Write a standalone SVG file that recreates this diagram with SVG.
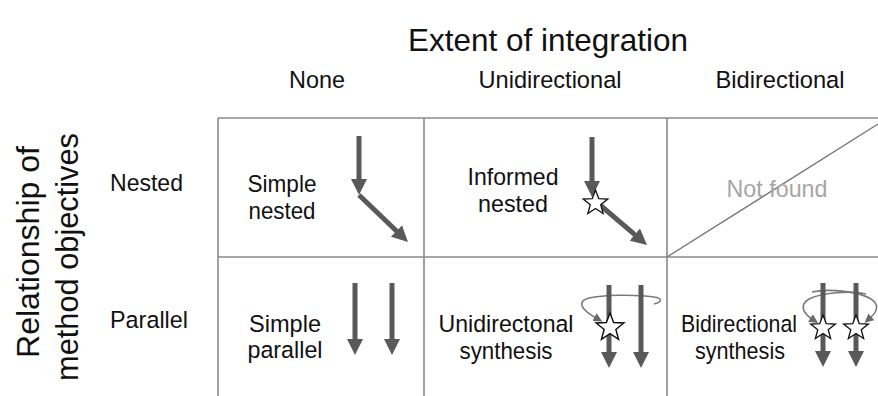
<svg xmlns="http://www.w3.org/2000/svg" width="878" height="396" viewBox="0 0 878 396">
<style>
text{font-family:"Liberation Sans",Arial,sans-serif;fill:#111}
.big{font-size:32px}
.lbl{font-size:24.5px}
.ctr{text-anchor:middle}
.grid{stroke:#8a8a8a;stroke-width:1.6;fill:none}
.arr{stroke:#595959;stroke-width:5;fill:none;marker-end:url(#ah)}
.loop{stroke:#7a7a7a;stroke-width:1.6;fill:none;marker-end:url(#sh)}
.star{fill:#fff;stroke:#111;stroke-width:1.3}
</style>
<defs>
<marker id="ah" viewBox="0 0 10 10" markerUnits="userSpaceOnUse" markerWidth="16" markerHeight="16" refX="0.5" refY="5" orient="auto"><path d="M0,0 L10,5 L0,10 Z" fill="#595959"/></marker>
<marker id="sh" viewBox="0 0 10 10" markerUnits="userSpaceOnUse" markerWidth="9" markerHeight="9" refX="2" refY="5" orient="auto"><path d="M0,0 L10,5 L0,10 Z" fill="#6a6a6a"/></marker>
<path id="star" d="M0,-13 L3.233,-4.45 L12.364,-4.017 L5.231,1.7 L7.641,10.517 L0,5.5 L-7.641,10.517 L-5.231,1.7 L-12.364,-4.017 L-3.233,-4.45 Z"/>
</defs>
<rect width="878" height="396" fill="#fff"/>

<g id="headers">
<text class="big ctr" x="548" y="51" textLength="280" lengthAdjust="spacingAndGlyphs">Extent of integration</text>
<text class="lbl ctr" x="317" y="88" textLength="56" lengthAdjust="spacingAndGlyphs">None</text>
<text class="lbl ctr" x="550" y="88" textLength="143" lengthAdjust="spacingAndGlyphs">Unidirectional</text>
<text class="lbl ctr" x="780" y="88" textLength="129" lengthAdjust="spacingAndGlyphs">Bidirectional</text>
<text class="big ctr" transform="translate(39,252) rotate(-90)" textLength="212" lengthAdjust="spacingAndGlyphs">Relationship of</text>
<text class="big ctr" transform="translate(78,257) rotate(-90)" textLength="248" lengthAdjust="spacingAndGlyphs">method objectives</text>
<text class="lbl" x="110" y="191" textLength="73" lengthAdjust="spacingAndGlyphs">Nested</text>
<text class="lbl" x="110" y="328" textLength="78" lengthAdjust="spacingAndGlyphs">Parallel</text>
</g>

<g id="grid">
<line class="grid" x1="218" y1="118" x2="878" y2="118"/>
<line class="grid" x1="218" y1="257" x2="878" y2="257"/>
<line class="grid" x1="218" y1="118" x2="218" y2="396"/>
<line class="grid" x1="424" y1="118" x2="424" y2="396"/>
<line class="grid" x1="667" y1="118" x2="667" y2="396"/>
</g>

<g id="simple-nested">
<text class="lbl ctr" x="282" y="192" textLength="69" lengthAdjust="spacingAndGlyphs">Simple</text>
<text class="lbl ctr" x="282" y="219" textLength="67" lengthAdjust="spacingAndGlyphs">nested</text>
</g>
<g id="informed-nested">
<text class="lbl ctr" x="513" y="185" textLength="91" lengthAdjust="spacingAndGlyphs">Informed</text>
<text class="lbl ctr" x="513" y="212" textLength="70" lengthAdjust="spacingAndGlyphs">nested</text>
</g>
<g id="not-found">
<line x1="667" y1="257" x2="878" y2="124" stroke="#777" stroke-width="1.3"/>
<text class="lbl ctr" x="777" y="197" style="fill:#a6a6a6" textLength="101" lengthAdjust="spacingAndGlyphs">Not found</text>
</g>
<g id="simple-parallel">
<text class="lbl ctr" x="285" y="332" textLength="72" lengthAdjust="spacingAndGlyphs">Simple</text>
<text class="lbl ctr" x="285" y="358" textLength="75" lengthAdjust="spacingAndGlyphs">parallel</text>
</g>
<g id="unidirectional-synthesis">
<text class="lbl ctr" x="506" y="332" textLength="135" lengthAdjust="spacingAndGlyphs">Unidirectonal</text>
<text class="lbl ctr" x="506" y="359" textLength="93" lengthAdjust="spacingAndGlyphs">synthesis</text>
</g>
<g id="bidirectional-synthesis">
<text class="lbl ctr" x="739" y="332" textLength="116" lengthAdjust="spacingAndGlyphs">Bidirectional</text>
<text class="lbl ctr" x="740" y="359" textLength="90" lengthAdjust="spacingAndGlyphs">synthesis</text>
</g>

<g id="connectors">
<line class="arr" x1="359" y1="136" x2="359" y2="179.8"/>
<line class="arr" x1="359" y1="195" x2="397" y2="231.5"/>
<line class="arr" x1="592" y1="137" x2="592" y2="181.8"/>
<line class="arr" x1="593" y1="199" x2="635.4" y2="235.1"/>
<line class="arr" x1="355" y1="283" x2="355" y2="339.8"/>
<line class="arr" x1="392" y1="283" x2="392" y2="339.8"/>
<path class="loop" d="M654,304 C663,302 662,298 654,297 C635,294 602,295 589,298 C577,301 580,309 596,318"/>
<line class="arr" x1="609" y1="285" x2="609" y2="352.8"/>
<line class="arr" x1="641" y1="285" x2="641" y2="352.8"/>
<path class="loop" d="M866,294 C850,290 821,293 809,299 C799,305 803,313 812,319"/>
<path class="loop" d="M812,292 C830,288 860,292 871,299 C880,305 877,312 870,318"/>
<line class="arr" x1="823" y1="283" x2="823" y2="351.8"/>
<line class="arr" x1="856" y1="283" x2="856" y2="351.8"/>
</g>

<g id="stars">
<use href="#star" class="star" x="595.5" y="203"/>
<use href="#star" class="star" transform="translate(610,327.5) scale(1.12)"/>
<use href="#star" class="star" x="823" y="328"/>
<use href="#star" class="star" x="856" y="328"/>
</g>
</svg>
